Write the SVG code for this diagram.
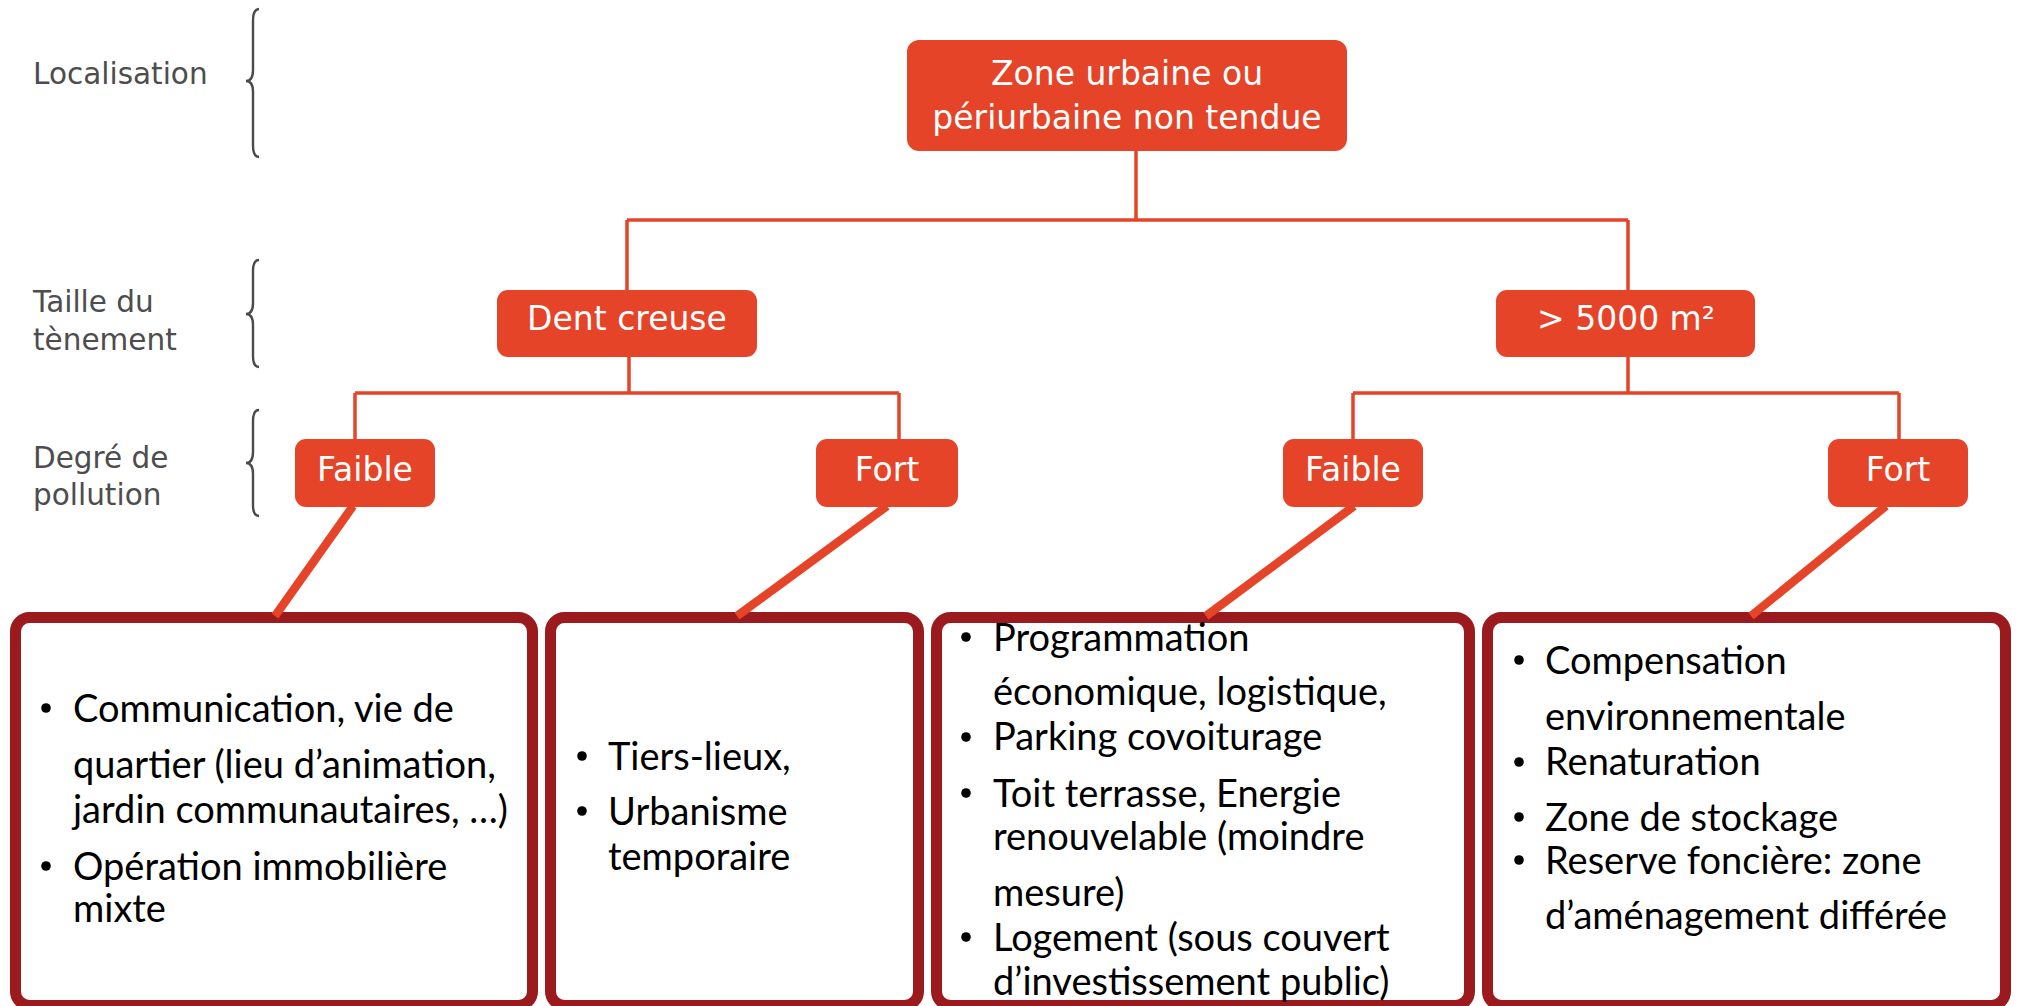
<svg xmlns="http://www.w3.org/2000/svg" width="2018" height="1006" viewBox="0 0 2018 1006">
<style>
.side{font-family:"DejaVu Sans","Liberation Sans",sans-serif;font-size:29.5px;fill:#4d4d4d}
.brace{fill:none;stroke:#4a4a4a;stroke-width:2.4}
.node rect{fill:#E64428}
.lbl{font-family:"DejaVu Sans","Liberation Sans",sans-serif;font-size:33px;fill:#ffffff;text-anchor:middle}
.conn{fill:none;stroke:#E64428;stroke-width:3.5}
.diag{fill:none;stroke:#E64428;stroke-width:8.5;stroke-linecap:butt}
.card{fill:#ffffff;stroke:#9B1A1E;stroke-width:11}
.txt{font-family:Lato,"Liberation Sans",sans-serif;font-size:38px;fill:#000000}
.dot{fill:#000000}
</style>
<rect width="2018" height="1006" fill="#ffffff"/>

<g id="legend">
<text class="side" x="33" y="84">Localisation</text>
<path class="brace" d="M259 9 Q253 9 253 21 L253 70 Q253 81 246 81 Q253 81 253 92 L253 145 Q253 157 259 157"/>
<text class="side" x="33" y="312">Taille du</text>
<text class="side" x="33" y="350">tènement</text>
<path class="brace" d="M259 260 Q253 260 253 271 L253 303 Q253 314 246 314 Q253 314 253 325 L253 356 Q253 367 259 367"/>
<text class="side" x="33" y="468">Degré de</text>
<text class="side" x="33" y="505">pollution</text>
<path class="brace" d="M259 410 Q253 410 253 421 L253 452 Q253 463 246 463 Q253 463 253 474 L253 505 Q253 516 259 516"/>
</g>

<g id="card1">
<rect class="card" x="15.5" y="617.5" width="517" height="388" rx="14"/>
<circle class="dot" cx="46" cy="708" r="4.8"/>
<text class="txt" x="73" y="722">Communication, vie de</text>
<text class="txt" x="73" y="778">quartier (lieu d’animation,</text>
<text class="txt" x="73" y="823">jardin communautaires, …)</text>
<circle class="dot" cx="46" cy="866" r="4.8"/>
<text class="txt" x="73" y="880">Opération immobilière</text>
<text class="txt" x="73" y="922">mixte</text>
</g>

<g id="card2">
<rect class="card" x="550.5" y="617.5" width="368" height="388" rx="14"/>
<circle class="dot" cx="582" cy="756" r="4.8"/>
<text class="txt" x="608" y="770">Tiers-lieux,</text>
<circle class="dot" cx="582" cy="811" r="4.8"/>
<text class="txt" x="608" y="825">Urbanisme</text>
<text class="txt" x="608" y="870">temporaire</text>
</g>

<g id="card3">
<rect class="card" x="936.5" y="617.5" width="533" height="388" rx="14"/>
<circle class="dot" cx="966" cy="637" r="4.8"/>
<text class="txt" x="993" y="651">Programmation</text>
<text class="txt" x="993" y="705">économique, logistique,</text>
<circle class="dot" cx="966" cy="737" r="4.8"/>
<text class="txt" x="993" y="750">Parking covoiturage</text>
<circle class="dot" cx="966" cy="793" r="4.8"/>
<text class="txt" x="993" y="807">Toit terrasse, Energie</text>
<text class="txt" x="993" y="850">renouvelable (moindre</text>
<text class="txt" x="993" y="906">mesure)</text>
<circle class="dot" cx="966" cy="937" r="4.8"/>
<text class="txt" x="993" y="951">Logement (sous couvert</text>
<text class="txt" x="993" y="995">d’investissement public)</text>
</g>

<g id="card4">
<rect class="card" x="1487.5" y="617.5" width="518" height="388" rx="14"/>
<circle class="dot" cx="1519" cy="660" r="4.8"/>
<text class="txt" x="1545" y="674">Compensation</text>
<text class="txt" x="1545" y="730">environnementale</text>
<circle class="dot" cx="1519" cy="762" r="4.8"/>
<text class="txt" x="1545" y="775">Renaturation</text>
<circle class="dot" cx="1519" cy="817" r="4.8"/>
<text class="txt" x="1545" y="831">Zone de stockage</text>
<circle class="dot" cx="1519" cy="860" r="4.8"/>
<text class="txt" x="1545" y="874">Reserve foncière: zone</text>
<text class="txt" x="1545" y="929">d’aménagement différée</text>
</g>

<g id="connectors">
<path class="conn" d="M1136 151 V220 M627 220 H1628 M627 220 V290 M1628 220 V290"/>
<path class="conn" d="M629 357 V393 M355 393 H899 M355 393 V439 M899 393 V439"/>
<path class="conn" d="M1628 357 V393 M1353 393 H1899 M1353 393 V439 M1899 393 V439"/>
<path class="diag" d="M353 506 L275 616"/>
<path class="diag" d="M887 506 L737 616"/>
<path class="diag" d="M1354 506 L1206 616"/>
<path class="diag" d="M1886 506 L1751 616"/>
</g>

<g id="root" class="node">
<rect x="907" y="40" width="440" height="111" rx="12"/>
<text class="lbl" x="1127" y="85">Zone urbaine ou</text>
<text class="lbl" x="1127" y="129">périurbaine non tendue</text>
</g>
<g id="dent-creuse" class="node">
<rect x="497" y="290" width="260" height="67" rx="11"/>
<text class="lbl" x="627" y="330">Dent creuse</text>
</g>
<g id="grand" class="node">
<rect x="1496" y="290" width="259" height="67" rx="11"/>
<text class="lbl" x="1626" y="330">&gt; 5000 m²</text>
</g>
<g id="faible1" class="node">
<rect x="295" y="439" width="140" height="68" rx="11"/>
<text class="lbl" x="365" y="481">Faible</text>
</g>
<g id="fort1" class="node">
<rect x="816" y="439" width="142" height="68" rx="11"/>
<text class="lbl" x="887" y="481">Fort</text>
</g>
<g id="faible2" class="node">
<rect x="1283" y="439" width="140" height="68" rx="11"/>
<text class="lbl" x="1353" y="481">Faible</text>
</g>
<g id="fort2" class="node">
<rect x="1828" y="439" width="140" height="68" rx="11"/>
<text class="lbl" x="1898" y="481">Fort</text>
</g>
</svg>
